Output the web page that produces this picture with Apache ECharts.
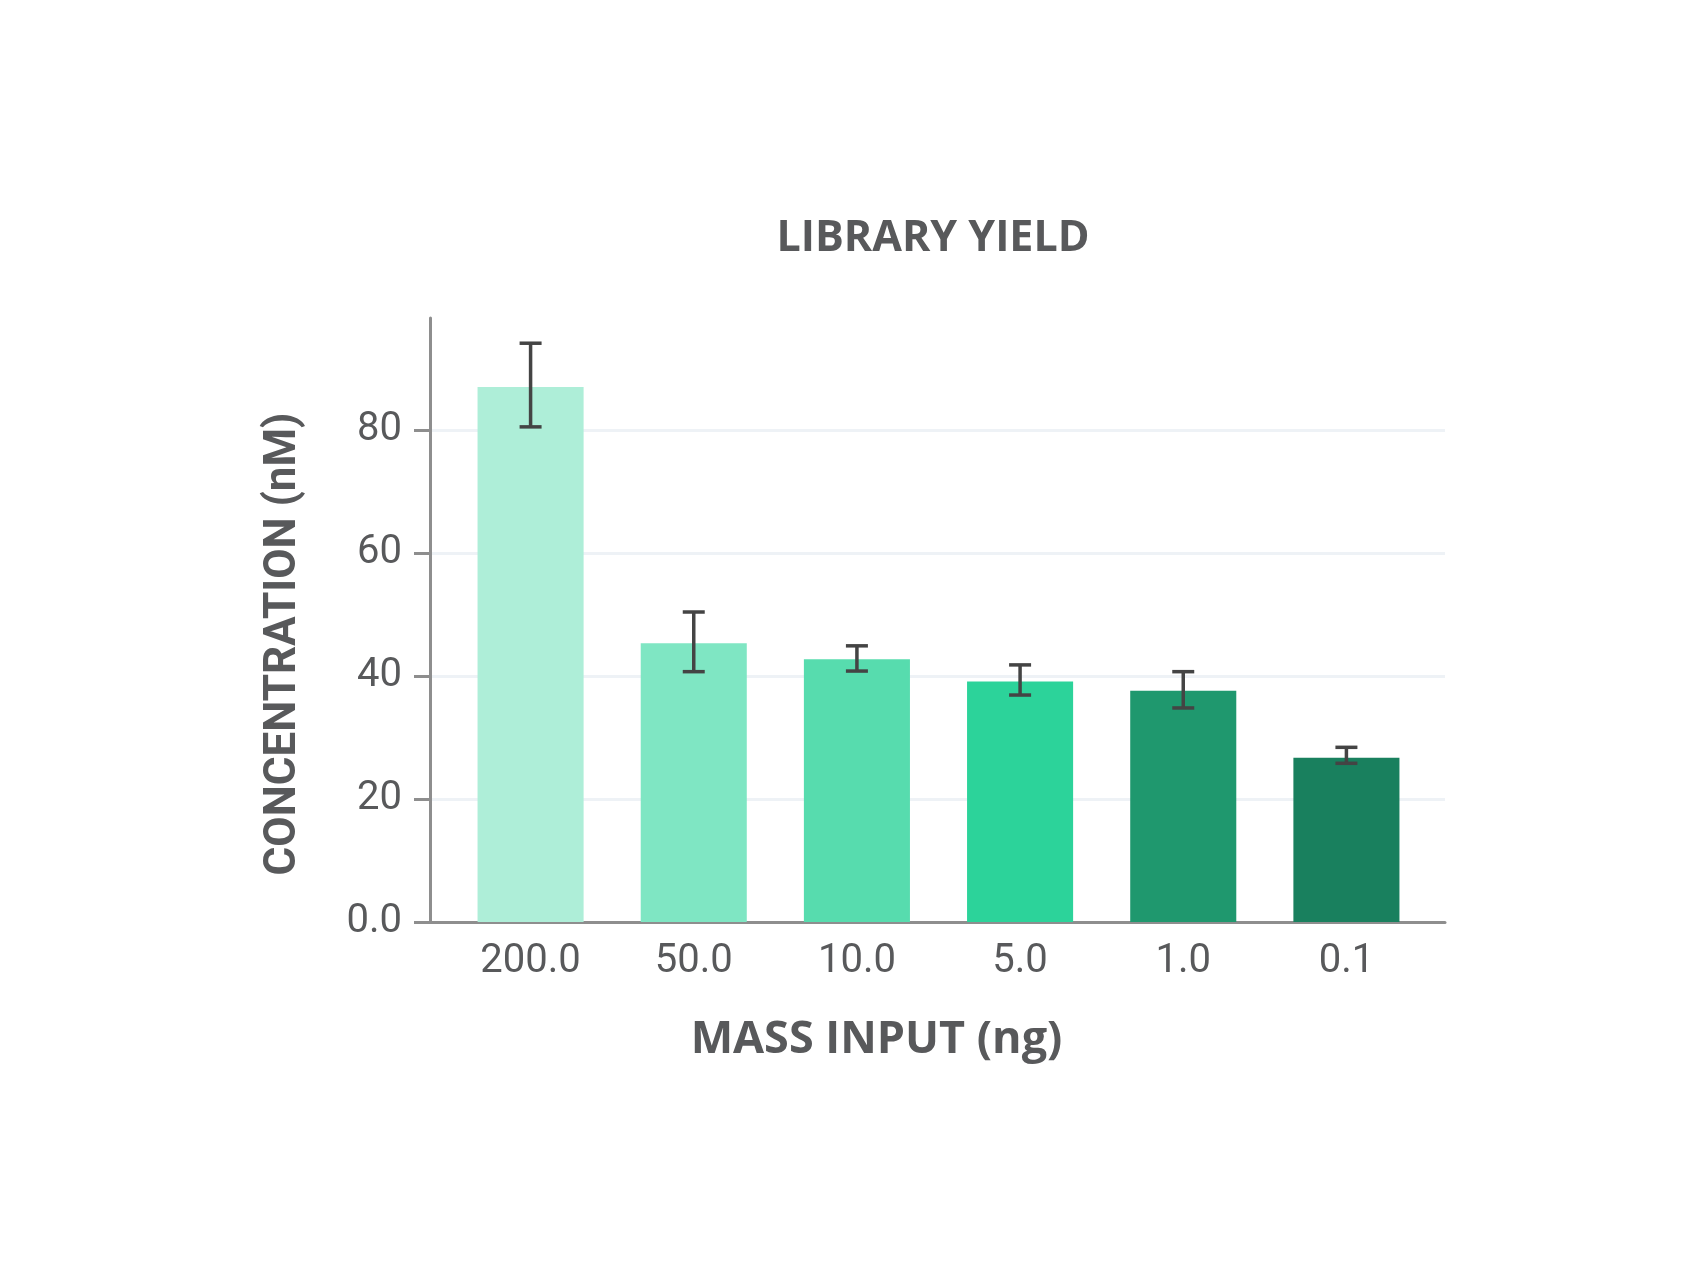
<!DOCTYPE html>
<html>
<head>
<meta charset="utf-8">
<title>Library Yield</title>
<script src="https://cdn.jsdelivr.net/npm/echarts@6/dist/echarts.min.js"></script>
<style>
  html, body { margin: 0; padding: 0; background: #fff; }
  #chart { width: 1700px; height: 1275px; }
</style>
</head>
<body>
<div id="chart"></div>
<script>
// 数据
var categories = ['200.0', '50.0', '10.0', '5.0', '1.0', '0.1'];
var yields = [87.0, 45.3, 42.7, 39.1, 37.6, 26.7];
var errLow = [80.5, 40.7, 40.8, 36.9, 34.8, 25.8];
var errHigh = [94.1, 50.4, 44.9, 41.8, 40.7, 28.4];
var barColors = ['#aeeed8', '#7fe6c3', '#57dcae', '#2cd39a', '#1f986e', '#19805e'];
var yTicks = [0, 20, 40, 60, 80];

var textColor = '#58595b';
var axisColor = '#8e8e8e';
var font = 'Roboto';
var boldFont = 'Open Sans';

var chart = echarts.init(document.getElementById('chart'));

var barData = [];
for (var i = 0; i < yields.length; i++) {
    barData.push({ value: yields[i], itemStyle: { color: barColors[i] } });
}
var errData = [];
for (var j = 0; j < yields.length; j++) {
    errData.push([j, errLow[j], errHigh[j]]);
}

var option = {
    animation: false,
    title: {
        text: 'LIBRARY YIELD',
        left: 928,
        top: 212,
        textAlign: 'center',
        textStyle: { color: textColor, fontFamily: boldFont, fontWeight: 'bold', fontSize: 43 }
    },
    grid: [
        // 外层: 轴线, 网格线, y轴刻度
        { left: 430, right: 255, top: 318, bottom: 353 },
        // 内层: 柱子和x轴标签
        { left: 449, right: 272, top: 318, bottom: 353 }
    ],
    xAxis: [
        {
            gridIndex: 0,
            type: 'category',
            data: categories,
            axisLine: { lineStyle: { color: axisColor, width: 3 } },
            axisTick: { show: false },
            axisLabel: { show: false }
        },
        {
            gridIndex: 1,
            type: 'category',
            data: categories,
            name: 'MASS INPUT (ng)',
            nameLocation: 'middle',
            nameGap: 96,
            nameTextStyle: {
                color: textColor, fontFamily: boldFont, fontWeight: 'bold', fontSize: 45,
                padding: [0, 124, 0, 0]
            },
            axisLine: { show: false },
            axisTick: { alignWithLabel: true, length: 16, lineStyle: { color: axisColor, width: 3 } },
            axisLabel: { color: textColor, fontFamily: font, fontSize: 40, margin: 20 }
        }
    ],
    yAxis: [
        {
            gridIndex: 0,
            type: 'value',
            min: 0,
            max: 98.2,
            interval: 20,
            name: 'CONCENTRATION (nM)',
            nameLocation: 'middle',
            nameGap: 124,
            nameTextStyle: {
                color: textColor, fontFamily: font, fontWeight: 'bold', fontSize: 44,
                padding: [0, 48, 0, 0]
            },
            axisLine: { show: true, lineStyle: { color: axisColor, width: 3 } },
            axisTick: { show: true, length: 16, customValues: yTicks, lineStyle: { color: axisColor, width: 3 } },
            axisLabel: {
                color: textColor, fontFamily: font, fontSize: 40, margin: 28,
                customValues: yTicks,
                formatter: function (v) { return v === 0 ? '0.0' : String(v); }
            },
            splitLine: { show: true, lineStyle: { color: '#eef2f6', width: 3 } }
        },
        {
            gridIndex: 1,
            type: 'value',
            min: 0,
            max: 98.2,
            interval: 20,
            show: false,
            splitLine: { show: false }
        }
    ],
    series: [
        {
            type: 'bar',
            xAxisIndex: 1,
            yAxisIndex: 1,
            barWidth: '65%',
            data: barData
        },
        {
            type: 'custom',
            xAxisIndex: 1,
            yAxisIndex: 1,
            z: 5,
            data: errData,
            renderItem: function (params, api) {
                var x = api.value(0);
                var top = api.coord([x, api.value(2)]);
                var bot = api.coord([x, api.value(1)]);
                var half = 11;
                var style = { stroke: '#444444', lineWidth: 3.5 };
                return {
                    type: 'group',
                    children: [
                        { type: 'line', shape: { x1: top[0], y1: top[1], x2: bot[0], y2: bot[1] }, style: style },
                        { type: 'line', shape: { x1: top[0] - half, y1: top[1], x2: top[0] + half, y2: top[1] }, style: style },
                        { type: 'line', shape: { x1: bot[0] - half, y1: bot[1], x2: bot[0] + half, y2: bot[1] }, style: style }
                    ]
                };
            }
        }
    ]
};

chart.setOption(option);
</script>
</body>
</html>
